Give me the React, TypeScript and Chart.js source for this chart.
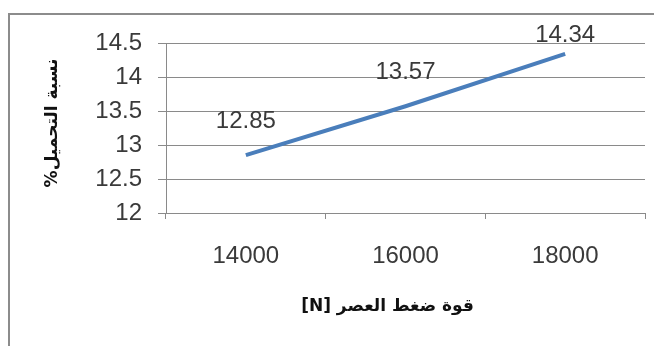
import React, { useEffect, useRef } from "react";
import { Chart, registerables } from "chart.js";

Chart.register(...registerables);

// Pressing force categories (N) and the measured load ratio (%)
const forceLabels = ["14000", "16000", "18000"];
const loadRatio = [12.85, 13.57, 14.34];
const yTickValues = [12, 12.5, 13, 13.5, 14, 14.5];
const xTitle = "قوة ضغط العصر [N]";
const yTitle = "نسبة التحميل%";

const TEXT = "#3a3a3a";
const GRID = "#8a8a8a";
const LINE = "#4a7ebb";
const TICK_FAMILY = "'Liberation Sans', Arial, sans-serif";
const TICK_FONT = { family: TICK_FAMILY, size: 24 };
const TITLE_CSS = "bold 17px 'DejaVu Sans', sans-serif";

// Grey frame around the chart (open on the right/bottom edge)
const framePlugin = {
  id: "frame",
  beforeDraw(chart: Chart) {
    const { ctx, width, height } = chart;
    ctx.save();
    ctx.fillStyle = "#ffffff";
    ctx.fillRect(0, 0, width, height);
    ctx.strokeStyle = "#8c8c8c";
    ctx.lineWidth = 2;
    ctx.strokeRect(1, 6, width + 10, height + 10);
    ctx.restore();
  },
};

// Value labels above each point, kept inside the frame near the top
const valueLabelPlugin = {
  id: "valueLabels",
  afterDatasetsDraw(chart: Chart) {
    const { ctx, chartArea } = chart;
    const meta = chart.getDatasetMeta(0);
    const data = chart.data.datasets[0].data as number[];
    ctx.save();
    ctx.fillStyle = TEXT;
    ctx.font = `${TICK_FONT.size}px ${TICK_FAMILY}`;
    ctx.textAlign = "center";
    ctx.textBaseline = "middle";
    meta.data.forEach((pt, i) => {
      const y = Math.max(pt.y - 34, chartArea.top - 8);
      ctx.fillText(String(data[i]), pt.x, y);
    });
    ctx.restore();
  },
};

// Arabic axis titles, drawn right-to-left
const axisTitlePlugin = {
  id: "axisTitles",
  afterDraw(chart: Chart) {
    const { ctx, chartArea } = chart;
    ctx.save();
    ctx.fillStyle = "#111111";
    ctx.font = TITLE_CSS;
    ctx.textAlign = "center";
    ctx.textBaseline = "middle";
    ctx.direction = "rtl";
    const cx = (chartArea.left + chartArea.right) / 2 - 18;
    ctx.fillText(xTitle, cx, chartArea.bottom + 94);
    ctx.translate(45, (chartArea.top + chartArea.bottom) / 2 - 5);
    ctx.rotate(-Math.PI / 2);
    ctx.fillText(yTitle, 0, 0);
    ctx.restore();
  },
};

export default function App() {
  const canvasRef = useRef<HTMLCanvasElement | null>(null);

  useEffect(() => {
    if (!canvasRef.current) return;
    const chart = new Chart(canvasRef.current, {
      type: "line",
      data: {
        labels: forceLabels,
        datasets: [
          {
            data: loadRatio,
            borderColor: LINE,
            backgroundColor: LINE,
            borderWidth: 4,
            pointRadius: 0,
            tension: 0,
          },
        ],
      },
      options: {
        responsive: false,
        animation: false,
        layout: { padding: { left: 0, top: 35, right: 17, bottom: 0 } },
        plugins: {
          legend: { display: false },
          tooltip: { enabled: false },
        },
        scales: {
          x: {
            type: "category",
            offset: true,
            grid: {
              offset: true,
              drawOnChartArea: false,
              drawTicks: true,
              tickLength: 6,
              color: GRID,
            },
            border: { color: GRID, width: 1 },
            ticks: { color: TEXT, font: TICK_FONT, padding: 23, maxRotation: 0 },
            afterFit(scale: any) {
              scale.height = 133;
            },
          },
          y: {
            min: 12,
            max: 14.5,
            afterBuildTicks(scale: any) {
              scale.ticks = yTickValues.map((v) => ({ value: v }));
            },
            grid: { color: GRID, tickLength: 8 },
            border: { color: GRID, width: 1 },
            ticks: {
              color: TEXT,
              font: TICK_FONT,
              padding: 16,
              callback: (v: any) => String(v),
            },
            afterFit(scale: any) {
              scale.width = 158;
            },
          },
        },
      },
      plugins: [framePlugin, valueLabelPlugin, axisTitlePlugin],
    });
    return () => chart.destroy();
  }, []);

  return (
    <div style={{ width: 654, height: 338 }}>
      <canvas ref={canvasRef} width={654} height={338} style={{ display: "block" }} />
    </div>
  );
}
